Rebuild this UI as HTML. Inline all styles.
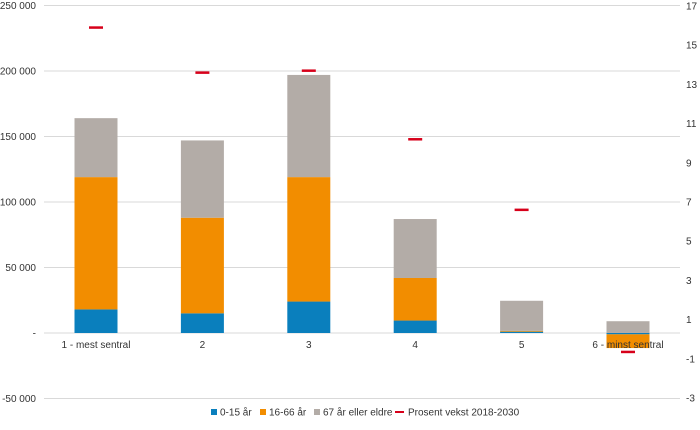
<!DOCTYPE html>
<html><head><meta charset="utf-8"><style>
body{margin:0;background:#fff;font-family:"Liberation Sans",sans-serif;}
svg text{font-family:"Liberation Sans",sans-serif;font-size:10px;fill:#333;}
</style></head><body>
<svg id="chart" width="700" height="425" xmlns="http://www.w3.org/2000/svg"></svg>
<script>
const categories=["1 - mest sentral","2","3","4","5","6 - minst sentral"];
const young=[18000,15000,24000,9500,1000,-1000];
const working=[101000,73000,95000,32500,600,-10500];
const old=[45000,59000,78000,45000,23000,9000];
const growth=[15.9,13.6,13.7,10.2,6.6,-0.65];
const leftTicks=[250000,200000,150000,100000,50000,0,-50000];
const leftLabels=["250 000","200 000","150 000","100 000","50 000","-","-50 000"];
const rightTicks=[17,15,13,11,9,7,5,3,1,-1,-3];
const seriesNames=["0-15 år","16-66 år","67 år eller eldre","Prosent vekst 2018-2030"];
const colors=["#0a7fbd","#f28d00","#b3aca7","#d7001a"];

const svg=document.getElementById('chart');
const NS="http://www.w3.org/2000/svg";
const yL=v=>333-v*65.5/50000;
const yR=v=>6+(17-v)*19.6;
const xC=i=>96+i*106.4;
function mk(tag,attrs,parent){const e=document.createElementNS(NS,tag);for(const k in attrs)e.setAttribute(k,attrs[k]);(parent||svg).appendChild(e);return e;}

leftTicks.forEach((t,i)=>{
  const g=mk('line',{x1:44,x2:680,y1:yL(t),y2:yL(t),stroke:'#d9d9d9','stroke-width':1});
  
  
  const tx=mk('text',{x:36,y:yL(t)+3.5,'text-anchor':'end'});tx.textContent=leftLabels[i];
  
  
});
rightTicks.forEach(t=>{
  const tx=mk('text',{x:686,y:yR(t)+3.5});tx.textContent=t;
  
  
});
categories.forEach((c,i)=>{
  const x=xC(i)-21.5,w=43;
  let pos=0,neg=0;
  [young,working,old].forEach((s,si)=>{
    const v=s[i];let y0,y1;
    if(v>=0){y0=pos;y1=pos+v;pos=y1;}else{y0=neg;y1=neg+v;neg=y1;}
    const r=mk('rect',{x:x,width:w,y:Math.min(yL(y0),yL(y1)),height:Math.abs(yL(y1)-yL(y0)),fill:colors[si]});
    
    
  });
  const tx=mk('text',{x:xC(i),y:348,'text-anchor':'middle'});tx.textContent=c;
  
  
  const m=mk('line',{x1:xC(i)-7,x2:xC(i)+7,y1:yR(growth[i]),y2:yR(growth[i]),stroke:colors[3],'stroke-width':2.5});
  
  
});
const lx=[211,260,314,395];
seriesNames.forEach((n,i)=>{
  let sw;
  if(i<3){sw=mk('rect',{x:lx[i],y:409,width:6,height:6,fill:colors[i]});}
  else{sw=mk('line',{x1:lx[i],x2:lx[i]+9,y1:412,y2:412,stroke:colors[3],'stroke-width':2});}
  
  
  const tx=mk('text',{x:lx[i]+(i<3?9:13),y:415.5});tx.textContent=n;
  
  
});
</script>
</body></html>
